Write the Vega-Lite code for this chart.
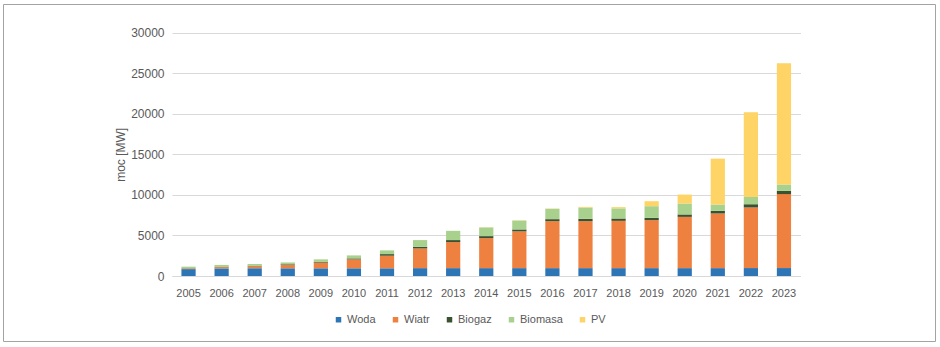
{
  "$schema": "https://vega.github.io/schema/vega-lite/v6.json",
  "autosize": "none",
  "width": 932,
  "height": 337,
  "padding": {"left": 3, "top": 4, "right": 5, "bottom": 6},
  "background": "white",
  "config": {
    "font": "Liberation Sans",
    "view": {"stroke": "#a3a3a3", "strokeWidth": 1, "fill": "white"}
  },
  "data": {
    "values": [
      {"rok": "2005", "zrodlo": "Woda", "moc": 850},
      {"rok": "2005", "zrodlo": "Wiatr", "moc": 80},
      {"rok": "2005", "zrodlo": "Biogaz", "moc": 30},
      {"rok": "2005", "zrodlo": "Biomasa", "moc": 190},
      {"rok": "2006", "zrodlo": "Woda", "moc": 940},
      {"rok": "2006", "zrodlo": "Wiatr", "moc": 150},
      {"rok": "2006", "zrodlo": "Biogaz", "moc": 55},
      {"rok": "2006", "zrodlo": "Biomasa", "moc": 220},
      {"rok": "2007", "zrodlo": "Woda", "moc": 950},
      {"rok": "2007", "zrodlo": "Wiatr", "moc": 250},
      {"rok": "2007", "zrodlo": "Biogaz", "moc": 65},
      {"rok": "2007", "zrodlo": "Biomasa", "moc": 220},
      {"rok": "2008", "zrodlo": "Woda", "moc": 950},
      {"rok": "2008", "zrodlo": "Wiatr", "moc": 400},
      {"rok": "2008", "zrodlo": "Biogaz", "moc": 90},
      {"rok": "2008", "zrodlo": "Biomasa", "moc": 230},
      {"rok": "2009", "zrodlo": "Woda", "moc": 950},
      {"rok": "2009", "zrodlo": "Wiatr", "moc": 700},
      {"rok": "2009", "zrodlo": "Biogaz", "moc": 100},
      {"rok": "2009", "zrodlo": "Biomasa", "moc": 300},
      {"rok": "2010", "zrodlo": "Woda", "moc": 950},
      {"rok": "2010", "zrodlo": "Wiatr", "moc": 1100},
      {"rok": "2010", "zrodlo": "Biogaz", "moc": 120},
      {"rok": "2010", "zrodlo": "Biomasa", "moc": 370},
      {"rok": "2011", "zrodlo": "Woda", "moc": 950},
      {"rok": "2011", "zrodlo": "Wiatr", "moc": 1550},
      {"rok": "2011", "zrodlo": "Biogaz", "moc": 200},
      {"rok": "2011", "zrodlo": "Biomasa", "moc": 460},
      {"rok": "2012", "zrodlo": "Woda", "moc": 970},
      {"rok": "2012", "zrodlo": "Wiatr", "moc": 2430},
      {"rok": "2012", "zrodlo": "Biogaz", "moc": 200},
      {"rok": "2012", "zrodlo": "Biomasa", "moc": 830},
      {"rok": "2013", "zrodlo": "Woda", "moc": 970},
      {"rok": "2013", "zrodlo": "Wiatr", "moc": 3210},
      {"rok": "2013", "zrodlo": "Biogaz", "moc": 250},
      {"rok": "2013", "zrodlo": "Biomasa", "moc": 1140},
      {"rok": "2014", "zrodlo": "Woda", "moc": 970},
      {"rok": "2014", "zrodlo": "Wiatr", "moc": 3700},
      {"rok": "2014", "zrodlo": "Biogaz", "moc": 250},
      {"rok": "2014", "zrodlo": "Biomasa", "moc": 1070},
      {"rok": "2014", "zrodlo": "PV", "moc": 20},
      {"rok": "2015", "zrodlo": "Woda", "moc": 970},
      {"rok": "2015", "zrodlo": "Wiatr", "moc": 4530},
      {"rok": "2015", "zrodlo": "Biogaz", "moc": 240},
      {"rok": "2015", "zrodlo": "Biomasa", "moc": 1100},
      {"rok": "2015", "zrodlo": "PV", "moc": 30},
      {"rok": "2016", "zrodlo": "Woda", "moc": 970},
      {"rok": "2016", "zrodlo": "Wiatr", "moc": 5790},
      {"rok": "2016", "zrodlo": "Biogaz", "moc": 250},
      {"rok": "2016", "zrodlo": "Biomasa", "moc": 1280},
      {"rok": "2016", "zrodlo": "PV", "moc": 30},
      {"rok": "2017", "zrodlo": "Woda", "moc": 970},
      {"rok": "2017", "zrodlo": "Wiatr", "moc": 5790},
      {"rok": "2017", "zrodlo": "Biogaz", "moc": 290},
      {"rok": "2017", "zrodlo": "Biomasa", "moc": 1370},
      {"rok": "2017", "zrodlo": "PV", "moc": 100},
      {"rok": "2018", "zrodlo": "Woda", "moc": 970},
      {"rok": "2018", "zrodlo": "Wiatr", "moc": 5830},
      {"rok": "2018", "zrodlo": "Biogaz", "moc": 290},
      {"rok": "2018", "zrodlo": "Biomasa", "moc": 1250},
      {"rok": "2018", "zrodlo": "PV", "moc": 150},
      {"rok": "2019", "zrodlo": "Woda", "moc": 970},
      {"rok": "2019", "zrodlo": "Wiatr", "moc": 5920},
      {"rok": "2019", "zrodlo": "Biogaz", "moc": 280},
      {"rok": "2019", "zrodlo": "Biomasa", "moc": 1440},
      {"rok": "2019", "zrodlo": "PV", "moc": 610},
      {"rok": "2020", "zrodlo": "Woda", "moc": 970},
      {"rok": "2020", "zrodlo": "Wiatr", "moc": 6320},
      {"rok": "2020", "zrodlo": "Biogaz", "moc": 300},
      {"rok": "2020", "zrodlo": "Biomasa", "moc": 1350},
      {"rok": "2020", "zrodlo": "PV", "moc": 1100},
      {"rok": "2021", "zrodlo": "Woda", "moc": 970},
      {"rok": "2021", "zrodlo": "Wiatr", "moc": 6740},
      {"rok": "2021", "zrodlo": "Biogaz", "moc": 320},
      {"rok": "2021", "zrodlo": "Biomasa", "moc": 780},
      {"rok": "2021", "zrodlo": "PV", "moc": 5660},
      {"rok": "2022", "zrodlo": "Woda", "moc": 980},
      {"rok": "2022", "zrodlo": "Wiatr", "moc": 7470},
      {"rok": "2022", "zrodlo": "Biogaz", "moc": 400},
      {"rok": "2022", "zrodlo": "Biomasa", "moc": 900},
      {"rok": "2022", "zrodlo": "PV", "moc": 10450},
      {"rok": "2023", "zrodlo": "Woda", "moc": 980},
      {"rok": "2023", "zrodlo": "Wiatr", "moc": 9120},
      {"rok": "2023", "zrodlo": "Biogaz", "moc": 400},
      {"rok": "2023", "zrodlo": "Biomasa", "moc": 780},
      {"rok": "2023", "zrodlo": "PV", "moc": 14950}
    ]
  },
  "transform": [
    {"calculate": "indexof(['Woda', 'Wiatr', 'Biogaz', 'Biomasa', 'PV'], datum.zrodlo)", "as": "kolejnosc"}
  ],
  "mark": {"type": "bar"},
  "encoding": {
    "x": {
      "field": "rok",
      "type": "ordinal",
      "scale": {"range": [169, 797.5], "paddingInner": 0.57, "paddingOuter": 0.285},
      "axis": {
        "title": null,
        "orient": "bottom",
        "offset": -65,
        "labelAngle": 0,
        "labelFontSize": 11,
        "labelColor": "#595959",
        "labelPadding": 11,
        "ticks": false,
        "tickSize": 0,
        "domainColor": "#d9d9d9",
        "grid": false
      }
    },
    "y": {
      "field": "moc",
      "type": "quantitative",
      "stack": "zero",
      "scale": {"domain": [0, 30000], "range": [272, 28.7], "nice": false},
      "axis": {
        "title": "moc [MW]",
        "orient": "left",
        "offset": -169,
        "values": [0, 5000, 10000, 15000, 20000, 25000, 30000],
        "format": "d",
        "labelFontSize": 12,
        "labelColor": "#595959",
        "labelPadding": 8,
        "ticks": false,
        "tickSize": 0,
        "domain": false,
        "grid": true,
        "gridColor": "#d9d9d9",
        "titleFontSize": 12,
        "titleFontWeight": "normal",
        "titleColor": "#595959",
        "titlePadding": 3
      }
    },
    "order": {"field": "kolejnosc", "type": "quantitative", "sort": "ascending"},
    "color": {
      "field": "zrodlo",
      "type": "nominal",
      "sort": ["Woda", "Wiatr", "Biogaz", "Biomasa", "PV"],
      "scale": {
        "domain": ["Woda", "Wiatr", "Biogaz", "Biomasa", "PV"],
        "range": ["#2e75b6", "#ef8140", "#3b5230", "#a9d18e", "#fdd465"]
      },
      "legend": {
        "title": null,
        "orient": "none",
        "direction": "horizontal",
        "legendX": 330,
        "legendY": 310,
        "symbolType": "square",
        "symbolSize": 30,
        "symbolStrokeWidth": 0,
        "labelFontSize": 11,
        "labelColor": "#595959",
        "labelOffset": 3,
        "columnPadding": 14,
        "padding": 0
      }
    }
  }
}
